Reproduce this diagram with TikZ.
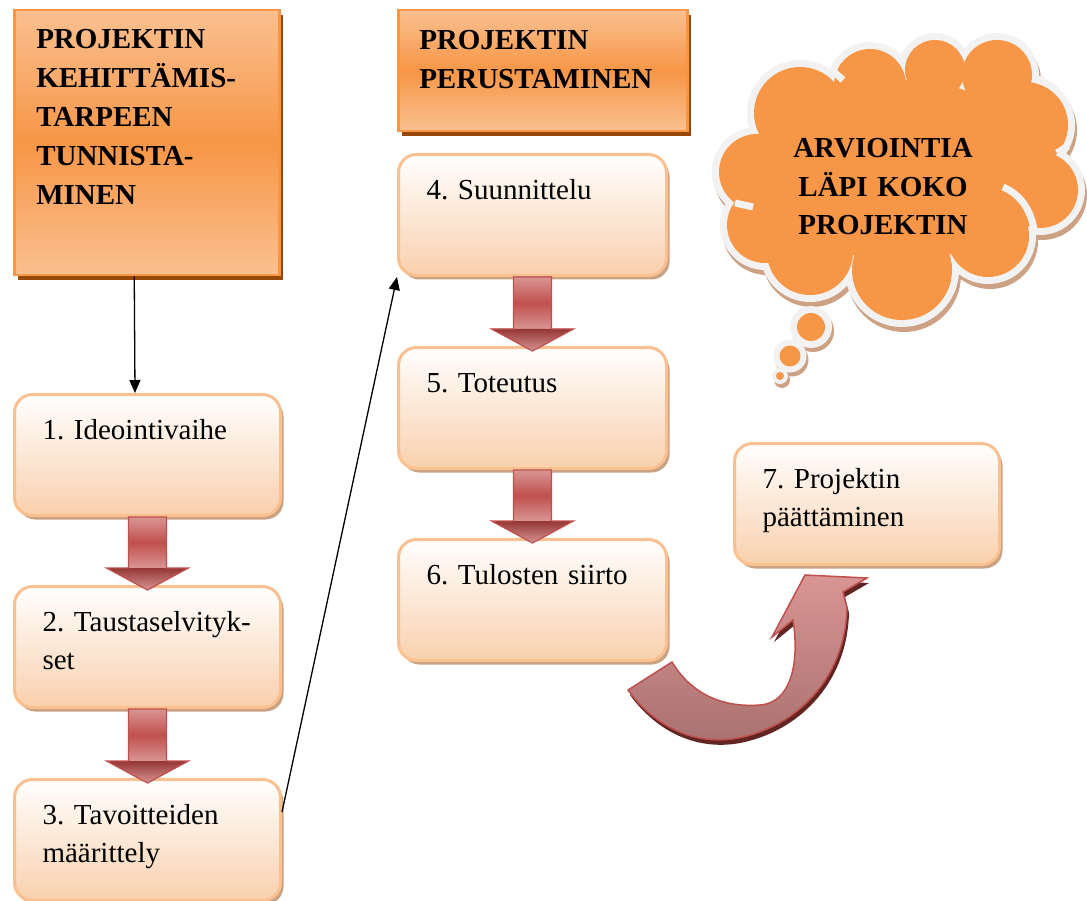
\documentclass[tikz,border=0pt]{standalone}
\usepackage{fontspec}
\setmainfont{Liberation Serif}
\usetikzlibrary{arrows.meta,calc,shadows}

\definecolor{hdrlight}{HTML}{FAC090}
\definecolor{hdrmid}{HTML}{F79646}
\definecolor{hdrborder}{HTML}{F79646}
\definecolor{hdrshadow}{HTML}{984807}
\definecolor{boxborder}{HTML}{FAC08F}
\definecolor{boxbottom}{HTML}{F9D0AD}
\definecolor{boxshadow}{HTML}{C9A283}
\definecolor{cloudfill}{HTML}{F79646}
\definecolor{cloudring}{HTML}{F2F2F2}
\definecolor{cloudshadow}{HTML}{CDA184}
\definecolor{balight}{HTML}{D99594}
\definecolor{bamid}{HTML}{C0504D}
\definecolor{badark}{HTML}{943634}
\definecolor{balow}{HTML}{A8716F}
\definecolor{bashadow}{HTML}{632523}

\newcommand\blockdown[2]{%
  \fill[bashadow,xshift=3pt,yshift=-3pt] let \p1=(#1.south), \p2=(#2.north) in
    (\x1-19pt,\y1) -- (\x1+19pt,\y1) -- (\x1+19pt,\y2+17pt) -- (\x1+41pt,\y2+17pt)
    -- (\x1,\y2-5pt) -- (\x1-41pt,\y2+17pt) -- (\x1-19pt,\y2+17pt) -- cycle;
  \shade[top color=balight, bottom color=balight, middle color=bamid] let \p1=(#1.south), \p2=(#2.north) in
    (\x1-19pt,\y1) rectangle (\x1+19pt,\y2+17pt);
  \shade[top color=badark, bottom color=balight] let \p1=(#1.south), \p2=(#2.north) in
    (\x1-41pt,\y2+17pt) -- (\x1+41pt,\y2+17pt) -- (\x1,\y2-5pt) -- cycle;
  \draw[bamid, line width=1.2pt, line join=miter] let \p1=(#1.south), \p2=(#2.north) in
    (\x1-19pt,\y1) -- (\x1+19pt,\y1) -- (\x1+19pt,\y2+17pt) -- (\x1+41pt,\y2+17pt)
    -- (\x1,\y2-5pt) -- (\x1-41pt,\y2+17pt) -- (\x1-19pt,\y2+17pt) -- cycle;
}

\def\cloudbumps{800/113/53, 870/85/43, 935/70/37, 997/75/42, 1025/125/50, 1040/190/45, 988/236/48, 902/270/57, 810/252/50, 765/225/45, 757/172/45}
\def\cloudbubbles{811/327/21/14, 790/356/16.5/10.5, 780/376/8/4}

\begin{document}
\begin{tikzpicture}[x=1pt,y=-1pt,
  hdr/.style={draw=hdrborder, line width=2.5pt, top color=hdrlight, bottom color=hdrlight, middle color=hdrmid,
    font={\fontsize{29pt}{39pt}\selectfont\bfseries\frenchspacing\hyphenpenalty=10000\relax}, align=left, anchor=north west,
    inner xsep=22pt, inner ysep=0pt,
    drop shadow={shadow xshift=4pt, shadow yshift=-5pt, fill=hdrshadow, opacity=1}},
  box/.style={draw=boxborder, line width=3pt, rounded corners=18pt, top color=white, bottom color=boxbottom,
    font={\fontsize{29pt}{38pt}\selectfont\frenchspacing\hyphenpenalty=10000\relax}, align=left, anchor=north west,
    inner xsep=28pt, inner ysep=0pt, text height=45pt, text depth=76pt,
    drop shadow={shadow xshift=3pt, shadow yshift=-4pt, fill=boxshadow, opacity=1}},
  cloudtxt/.style={font={\fontsize{29pt}{38.5pt}\selectfont\bfseries}, align=center, text width=260pt, inner sep=0pt, anchor=base},
  crease/.style={draw=cloudring, line width=7pt},
  conn/.style={draw=black, line width=1.3pt, -{Triangle[length=13pt,width=11pt]}}
]
\useasboundingbox (0,0) rectangle (1087,901);

% ---- thought cloud ----
\foreach \cx/\cy/\r in \cloudbumps {\fill[cloudshadow] (\cx+2,\cy+5) circle[radius=\r];}
\foreach \cx/\cy/\r/\q in \cloudbubbles {\fill[cloudshadow] (\cx+2,\cy+4) circle[radius=\r];}
\foreach \cx/\cy/\r in \cloudbumps {\fill[cloudring] (\cx,\cy) circle[radius=\r];}
\foreach \cx/\cy/\r/\q in \cloudbubbles {\fill[cloudring] (\cx,\cy) circle[radius=\r];}
\foreach \cx/\cy/\r in \cloudbumps {\fill[cloudfill] (\cx,\cy) circle[radius=\r-7];}
\foreach \cx/\cy/\r/\q in \cloudbubbles {\fill[cloudfill] (\cx,\cy) circle[radius=\q];}
\fill[cloudfill] (900,170) ellipse[x radius=140, y radius=90];
\draw[crease] (1003,187) .. controls (1020,194) and (1031,210) .. (1034,230);
\draw[crease] (735,203) -- (753,207);
\draw[crease] (833,71) -- (843,80);
\draw[crease] (1035,80) -- (1045,80);
\draw[crease] (1057,153) -- (1068,146);
\node[cloudtxt] (ct) at (883,158) {ARVIOINTIA\\LÄPI KOKO\\PROJEKTIN};

% ---- heading boxes ----
\node[hdr, text width=221pt, text height=38pt, text depth=227pt] (h1) at (13,9)
  {PROJEKTIN\\KEHITTÄMIS-\\TARPEEN\\TUNNISTA-\\MINEN};
\node[hdr, inner xsep=21pt, text width=247pt, text height=39pt, text depth=82pt] (h2) at (397,9)
  {PROJEKTIN\\PERUSTAMINEN};

% ---- step boxes ----
\node[box, text width=210pt] (b1) at (13,393) {1. Ideointivaihe};
\node[box, text width=210pt] (b2) at (13,585) {\mbox{2. Taustaselvityk-}\\set};
\node[box, text width=210pt] (b3) at (13,778) {3. Tavoitteiden\\määrittely};
\node[box, text width=212pt] (b4) at (397,153) {4. Suunnittelu};
\node[box, text width=212pt] (b5) at (397,346) {5. Toteutus};
\node[box, text width=212pt] (b6) at (397,538) {6. Tulosten siirto};
\node[box, text width=209pt] (b7) at (733,442) {7. Projektin\\päättäminen};

% ---- block arrows ----
\blockdown{b1}{b2}
\blockdown{b2}{b3}
\blockdown{b4}{b5}
\blockdown{b5}{b6}

% ---- curved arrow from 6 to 7 ----
\fill[bashadow, xshift=2pt, yshift=-5pt]
  (628,690) .. controls (655,727) and (695,746) .. (738,738)
  .. controls (795,727) and (845,680) .. (847,608) -- (843,592) -- (867,578) -- (805,575)
  -- (772,637) -- (793,620) .. controls (800,665) and (790,703) .. (760,705)
  .. controls (720,708) and (690,692) .. (672,662) -- cycle;
\shade[top color=balight, middle color=bamid, bottom color=balow, draw=bamid, line width=1.5pt, line join=miter]
  (628,690) .. controls (655,727) and (695,746) .. (738,738)
  .. controls (795,727) and (845,680) .. (847,608) -- (843,592) -- (867,578) -- (805,575)
  -- (772,637) -- (793,620) .. controls (800,665) and (790,703) .. (760,705)
  .. controls (720,708) and (690,692) .. (672,662) -- cycle;

% ---- thin connectors ----
\draw[conn] ([xshift=-12.5pt]h1.south) -- ([xshift=-12.5pt]b1.north);
\draw[conn] ($(b3.north east)+(0,34)$) -- (b4.south west);
\end{tikzpicture}
\end{document}
